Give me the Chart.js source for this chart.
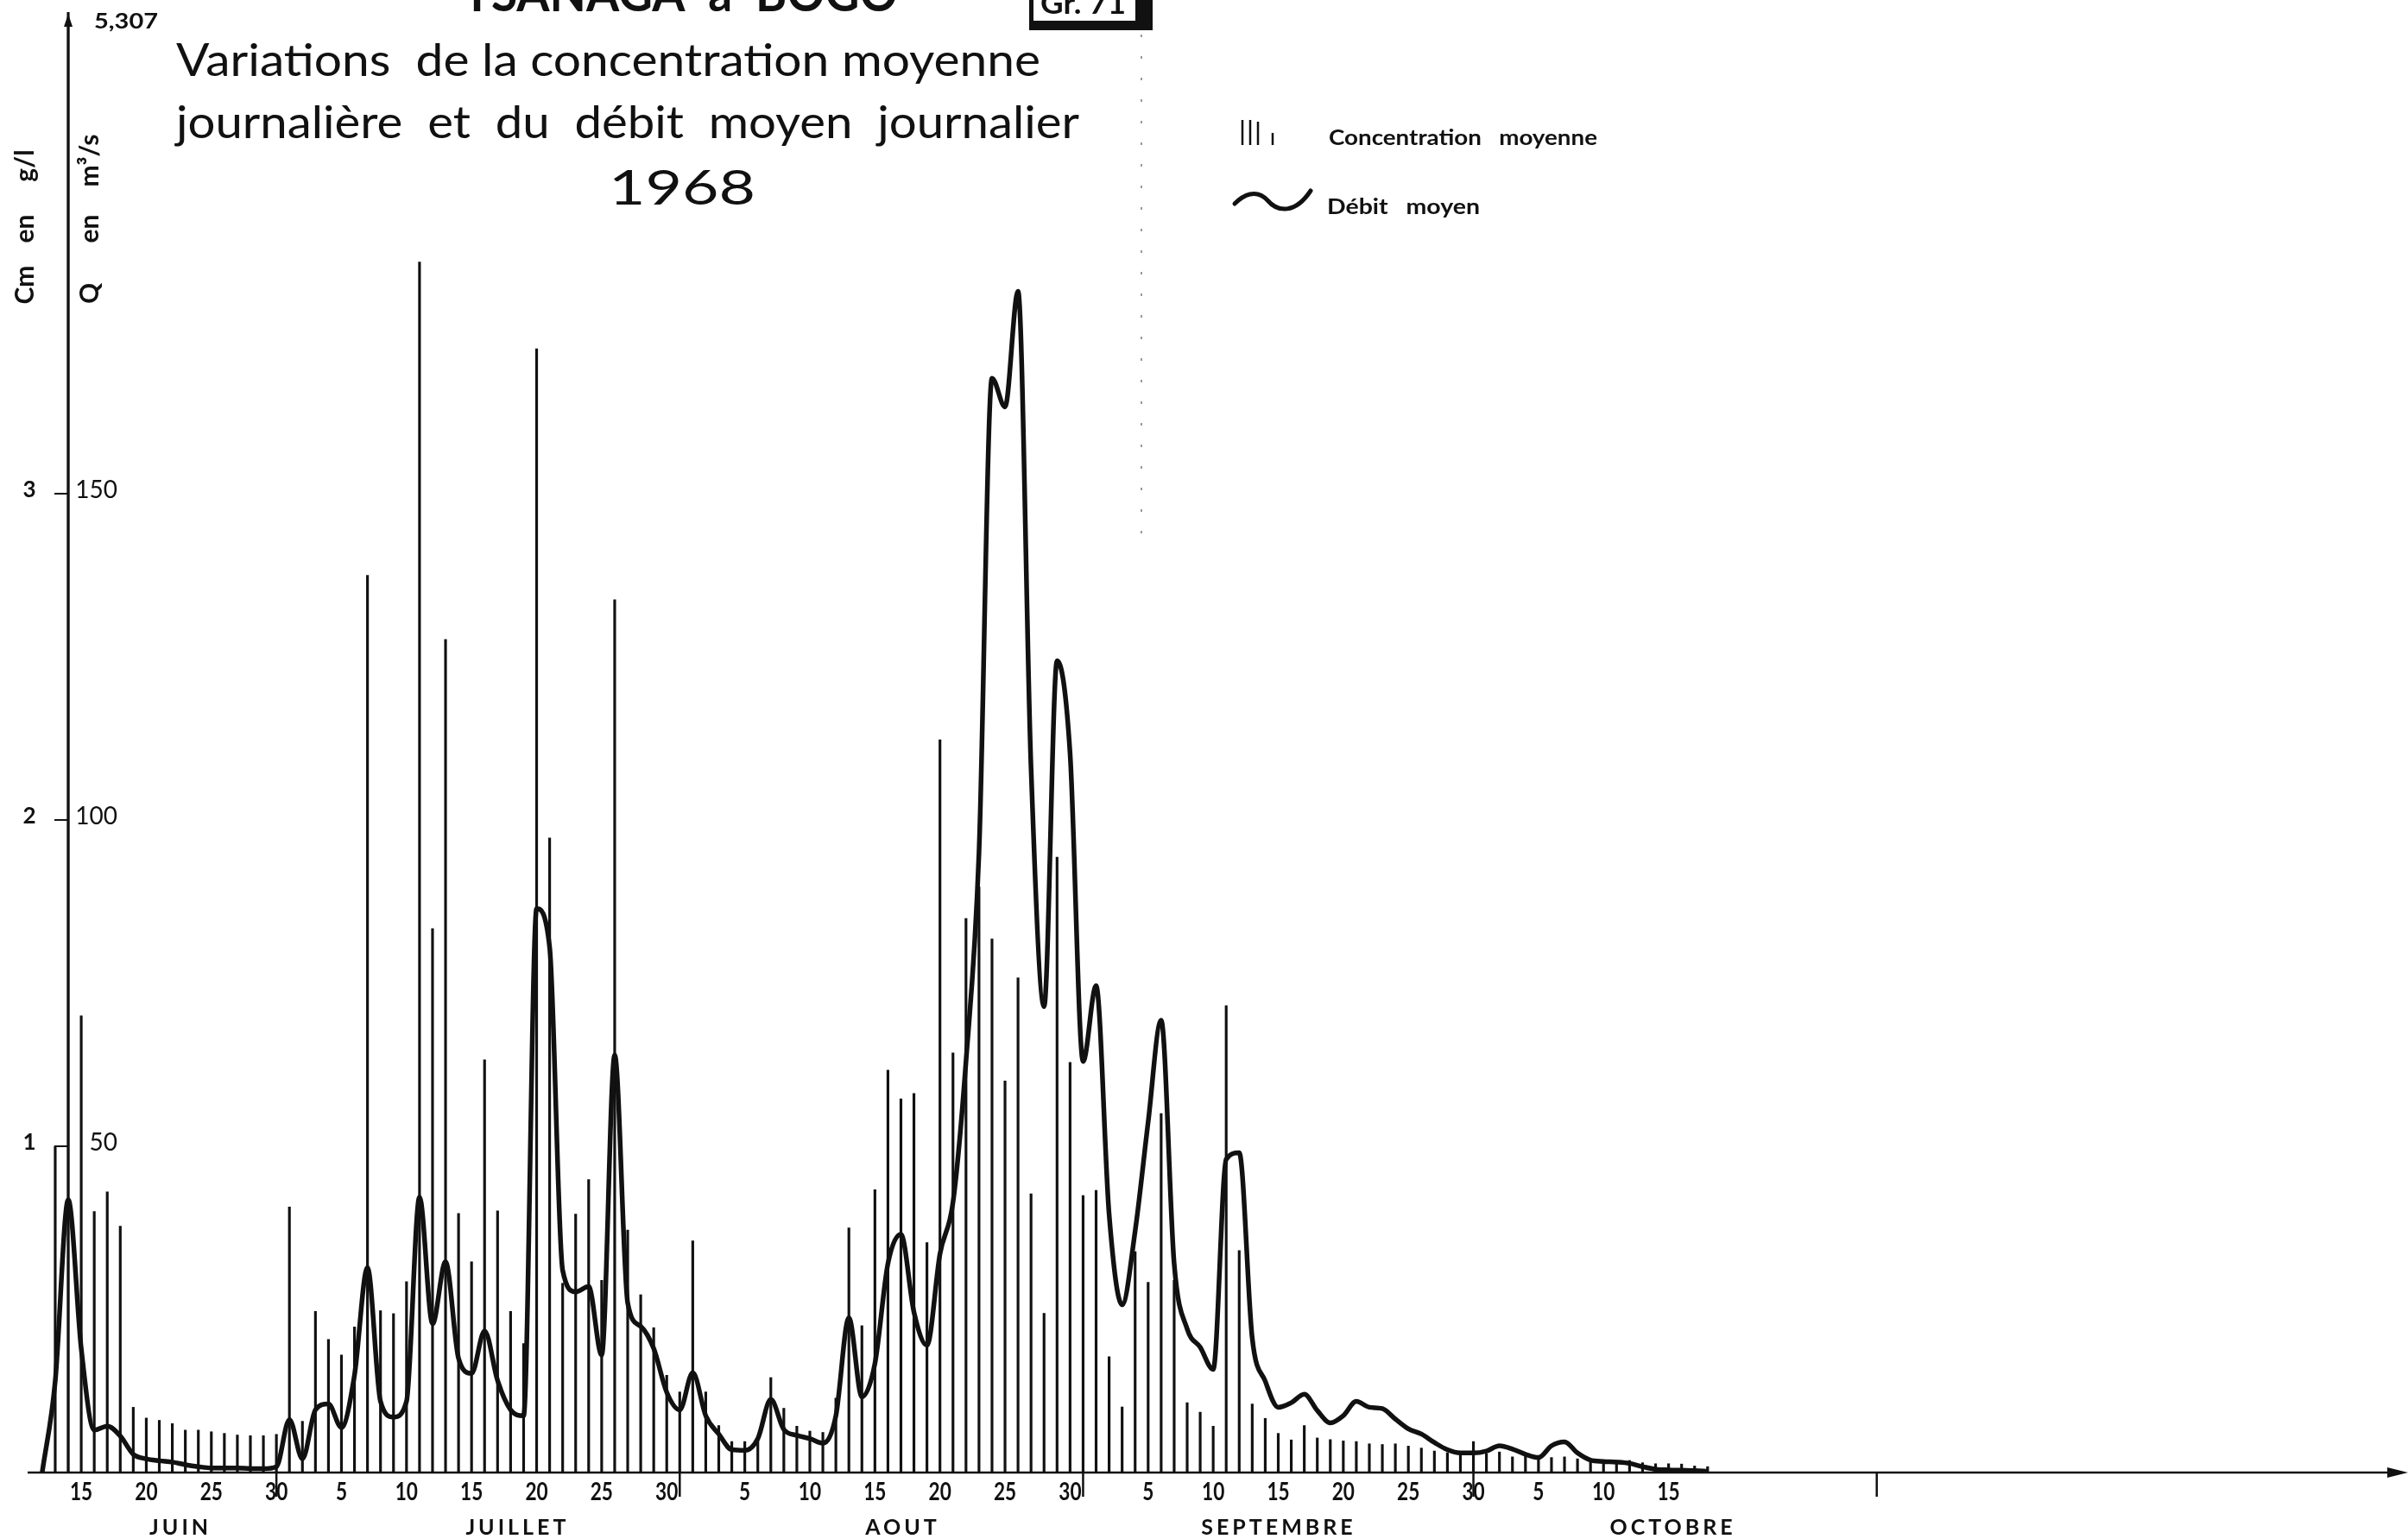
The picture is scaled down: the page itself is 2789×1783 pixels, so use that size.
<!DOCTYPE html>
<html lang="fr">
<head>
<meta charset="utf-8">
<title>Tsanaga à Bogo - 1968</title>
<script src="https://cdn.jsdelivr.net/npm/chart.js@4.4.1/dist/chart.umd.min.js"></script>
<style>
  html, body { margin: 0; padding: 0; background: #fff; }
  #graphique { display: block; }
</style>
</head>
<body>
<canvas id="graphique" width="2789" height="1783"></canvas>
<script>
// Concentration moyenne journalière (g/l)
const cmJuin = [null, 1.00, 5.307, 1.40, 0.80, 0.86, 0.755, 0.20, 0.167, 0.16, 0.15, 0.13, 0.13, 0.125, 0.12, 0.115, 0.113, 0.113, 0.117]; // 12 -> 30 juin
const cmJuillet = [0.814, 0.157, 0.494, 0.408, 0.36, 0.446, 2.75, 0.496, 0.487, 0.585, 3.71, 1.667, 2.553, 0.794, 0.646, 1.265, 0.802, 0.494, 0.395, 3.444, 1.945, 0.58, 0.792, 0.898, 0.589, 2.675, 0.743, 0.545, 0.444, 0.298, 0.247];
const cmAout = [0.71, 0.247, 0.144, 0.095, 0.095, 0.104, 0.291, 0.197, 0.142, 0.127, 0.123, 0.228, 0.75, 0.45, 0.867, 1.233, 1.145, 1.162, 0.705, 2.246, 1.286, 1.698, 1.795, 1.635, 1.20, 1.516, 0.854, 0.488, 1.886, 1.257, 0.849];
const cmSeptembre = [0.865, 0.355, 0.201, 0.677, 0.583, 1.10, 0.589, 0.214, 0.185, 0.142, 1.431, 0.68, 0.21, 0.166, 0.12, 0.10, 0.144, 0.106, 0.101, 0.097, 0.095, 0.088, 0.086, 0.088, 0.081, 0.075, 0.066, 0.061, 0.055, 0.095];
const cmOctobre = [0.058, 0.063, 0.048, 0.052, 0.05, 0.046, 0.048, 0.042, 0.035, 0.035, 0.037, 0.037, 0.03, 0.027, 0.027, 0.026, 0.02, 0.018]; // 1 -> 18 octobre

// Débit moyen journalier (m3/s)
const qJuin = [0, 14, 41.8, 19, 6.5, 7.1, 5.6, 2.8, 2.1, 1.8, 1.6, 1.2, 0.9, 0.7, 0.7, 0.7, 0.6, 0.6, 0.9];
const qJuillet = [8.1, 2.1, 9.6, 10.5, 6.9, 14.9, 31.4, 10.9, 8.5, 10.9, 42.2, 22.8, 32.3, 17.5, 15.2, 21.7, 14.1, 9.6, 8.7, 86.4, 80.5, 31, 27.7, 28.5, 18, 64, 26, 22.4, 19, 12.3, 9.6];
const qAout = [15.3, 8.7, 5.9, 3.5, 3.4, 5.2, 11.2, 6.6, 5.7, 5.2, 4.5, 8.7, 23.7, 11.6, 16.7, 32, 36.5, 24.6, 19.5, 33.5, 41.4, 63, 95, 167.7, 163.3, 181, 108, 71.4, 124.4, 110.2, 63];
const qSeptembre = [74.6, 39.6, 25.7, 37, 53.7, 69.3, 32, 22, 19.2, 15.8, 48, 49, 20.6, 14, 10, 10.7, 12, 9.5, 7.6, 8.7, 10.9, 10, 9.8, 8.2, 6.7, 5.9, 4.6, 3.5, 3.0, 3.0];
const qOctobre = [3.3, 4.1, 3.6, 2.8, 2.3, 4.1, 4.7, 3.0, 1.9, 1.7, 1.6, 1.4, 0.9, 0.5, 0.4, 0.35, 0.3, 0.2];

// Mois et graduations
const mois = ['JUIN', 'JUILLET', 'AOUT', 'SEPTEMBRE', 'OCTOBRE'];
const premierJour = [12, 1, 1, 1, 1];          // premier jour porté pour chaque mois
const joursEtiquettes = [
    [15, 20, 25, 30],
    [5, 10, 15, 20, 25, 30],
    [5, 10, 15, 20, 25, 30],
    [5, 10, 15, 20, 25, 30],
    [5, 10, 15]
];
const ticksCm = [1, 2, 3];
const ticksQ = [50, 100, 150];
const CM_MAXI = 5.307;

// Calendrier : rang du 1er de chaque mois (0 = 1er juin), fin de mois
const debutMois = [0, 30, 61, 92, 122, 153];
const finMois = [29, 60, 91, 121, 152];
const ancreMois = [22.5, 18.4, 17, 14.9, 15.2]; // jour sous lequel est centré le nom du mois
const JOUR_AXE = 13; // l'axe vertical passe au 14 juin

const NOIR = '#111';

// construit les points {x: rang du jour, y: valeur}
function serie(listes) {
    const points = [];
    listes.forEach((valeurs, m) => {
        valeurs.forEach((v, i) => {
            if (v === null) return;
            points.push({ x: debutMois[m] + premierJour[m] + i - 1, y: v });
        });
    });
    return points;
}

const pointsCm = serie([cmJuin, cmJuillet, cmAout, cmSeptembre, cmOctobre]);
const pointsQ = serie([qJuin, qJuillet, qAout, qSeptembre, qOctobre]);

// texte étiré / comprimé à une largeur donnée
function texteLargeur(ctx, txt, x, y, largeur) {
    const w = ctx.measureText(txt).width;
    ctx.save();
    ctx.translate(x, y);
    ctx.scale(largeur / w, 1);
    ctx.textAlign = 'left';
    ctx.fillText(txt, 0, 0);
    ctx.restore();
}

function fleche(ctx, px, py, sens) {
    ctx.beginPath();
    if (sens === 'droite') {
        ctx.moveTo(px, py);
        ctx.lineTo(px - 24, py - 6);
        ctx.lineTo(px - 24, py + 6);
    } else {
        ctx.moveTo(px, py);
        ctx.lineTo(px - 5, py + 15);
        ctx.lineTo(px + 5, py + 15);
    }
    ctx.closePath();
    ctx.fill();
}

function texteVertical(ctx, txt, px, py) {
    ctx.save();
    ctx.translate(px, py);
    ctx.rotate(-Math.PI / 2);
    ctx.textAlign = 'center';
    ctx.textBaseline = 'middle';
    ctx.fillText(txt, 0, 0);
    ctx.restore();
}

// Axes, graduations, titres et légende dessinés sur le canevas
const decor = {
    id: 'decor',
    beforeDraw(chart) {
        const ctx = chart.ctx;
        ctx.save();
        ctx.fillStyle = '#fff';
        ctx.fillRect(0, 0, chart.width, chart.height);
        ctx.restore();
    },
    afterDraw(chart) {
        const { ctx, chartArea } = chart;
        const sx = chart.scales.x, sy = chart.scales.y, sq = chart.scales.y2;
        const x0 = sx.getPixelForValue(JOUR_AXE);
        const yb = sy.getPixelForValue(0);

        ctx.save();
        ctx.strokeStyle = NOIR;
        ctx.fillStyle = NOIR;
        ctx.lineCap = 'butt';

        // axe des temps
        ctx.lineWidth = 2.5;
        ctx.beginPath();
        ctx.moveTo(chartArea.left, yb);
        ctx.lineTo(chartArea.right - 10, yb);
        ctx.stroke();
        fleche(ctx, chartArea.right, yb, 'droite');

        // axe vertical
        ctx.beginPath();
        ctx.moveTo(x0, yb);
        ctx.lineTo(x0, chartArea.top + 8);
        ctx.stroke();
        fleche(ctx, x0, chartArea.top + 2, 'haut');

        // fin de mois
        finMois.forEach(j => {
            const px = sx.getPixelForValue(j);
            ctx.beginPath();
            ctx.moveTo(px, yb);
            ctx.lineTo(px, yb + 28);
            ctx.stroke();
        });

        // graduations Cm et Q
        ctx.lineWidth = 2;
        ctx.font = 'bold 26px Lato';
        ctx.textAlign = 'center';
        ctx.textBaseline = 'middle';
        ticksCm.forEach(v => {
            const py = sy.getPixelForValue(v);
            ctx.beginPath();
            ctx.moveTo(x0 - 16, py);
            ctx.lineTo(x0, py);
            ctx.stroke();
            ctx.fillText(String(v), x0 - 45, py - 4);
        });
        ctx.font = '28px Lato';
        ctx.textAlign = 'right';
        ticksQ.forEach(v => {
            const py = sq.getPixelForValue(v);
            ctx.fillText(String(v), x0 + 57, py - 4);
        });

        // valeur hors échelle
        ctx.font = 'bold 24px Lato';
        ctx.textBaseline = 'alphabetic';
        texteLargeur(ctx, CM_MAXI.toString().replace('.', ','), x0 + 30, chartArea.top + 19, 74);

        // titres des axes
        ctx.font = 'bold 30px Lato';
        texteVertical(ctx, 'Cm', 29, 330);
        texteVertical(ctx, 'en', 29, 265);
        texteVertical(ctx, 'g/l', 29, 192);
        texteVertical(ctx, 'Q', 104, 340);
        texteVertical(ctx, 'en', 104, 265);
        texteVertical(ctx, 'm³/s', 104, 186);

        // jours
        ctx.font = 'bold 29px Lato';
        ctx.textBaseline = 'alphabetic';
        joursEtiquettes.forEach((jours, m) => {
            jours.forEach(j => {
                const px = sx.getPixelForValue(debutMois[m] + j - 1);
                ctx.save();
                ctx.translate(px, yb + 32);
                ctx.scale(0.78, 1);
                ctx.textAlign = 'center';
                ctx.fillText(String(j), 0, 0);
                ctx.restore();
            });
        });

        // mois
        ctx.font = 'bold 25px Lato';
        ctx.letterSpacing = '4px';
        ctx.textAlign = 'center';
        mois.forEach((nom, m) => {
            const px = sx.getPixelForValue(debutMois[m] + ancreMois[m] - 1);
            ctx.fillText(nom, px + 2, yb + 72);
        });
        ctx.letterSpacing = '0px';

        // titre
        ctx.textAlign = 'left';
        ctx.font = 'bold 60px Lato';
        texteLargeur(ctx, 'TSANAGA  à  BOGO', 536, 13, 504);
        ctx.font = '53px Lato';
        texteLargeur(ctx, 'Variations  de la concentration moyenne', 204, 88, 1001);
        texteLargeur(ctx, 'journalière  et  du  débit  moyen  journalier', 204, 160, 1046);
        ctx.font = '56px Lato';
        texteLargeur(ctx, '1968', 705, 237, 170);

        // cartouche Gr. 71
        ctx.fillRect(1192, 0, 143, 35);
        ctx.fillStyle = '#fff';
        ctx.fillRect(1197, 0, 118, 24);
        ctx.fillStyle = NOIR;
        ctx.font = 'bold 34px Lato';
        texteLargeur(ctx, 'Gr. 71', 1205, 16, 99);

        // trace de pliure
        ctx.save();
        ctx.strokeStyle = '#9a9a9a';
        ctx.lineWidth = 2;
        ctx.setLineDash([3, 22]);
        ctx.beginPath();
        ctx.moveTo(1322, 40);
        ctx.lineTo(1322, 640);
        ctx.stroke();
        ctx.restore();

        // légende
        ctx.lineWidth = 2.5;
        [[1439, 139], [1448, 139], [1457, 141], [1474, 154]].forEach(([lx, ly]) => {
            ctx.beginPath();
            ctx.moveTo(lx, ly);
            ctx.lineTo(lx, 168);
            ctx.stroke();
        });
        ctx.lineWidth = 5;
        ctx.lineCap = 'round';
        ctx.beginPath();
        ctx.moveTo(1430, 236);
        ctx.bezierCurveTo(1440, 226, 1455, 218, 1468, 232);
        ctx.bezierCurveTo(1480, 246, 1500, 248, 1518, 221);
        ctx.stroke();
        ctx.font = 'bold 24px Lato';
        texteLargeur(ctx, 'Concentration   moyenne', 1539, 168, 311);
        texteLargeur(ctx, 'Débit   moyen', 1537, 248, 177);

        ctx.restore();
    }
};

const chart = new Chart(document.getElementById('graphique').getContext('2d'), {
    data: {
        datasets: [
            {
                type: 'line',
                label: 'Débit moyen',
                data: pointsQ,
                yAxisID: 'y2',
                borderColor: NOIR,
                borderWidth: 5.5,
                pointRadius: 0,
                fill: false,
                cubicInterpolationMode: 'monotone',
                order: 0
            },
            {
                type: 'bar',
                label: 'Concentration moyenne',
                data: pointsCm,
                yAxisID: 'y',
                backgroundColor: NOIR,
                borderWidth: 0,
                barThickness: 2.5,
                grouped: false,
                clip: 0,
                order: 1
            }
        ]
    },
    options: {
        responsive: false,
        animation: false,
        devicePixelRatio: 1,
        layout: { padding: { left: 32, right: 0, top: 14, bottom: 77 } },
        plugins: {
            legend: { display: false },
            tooltip: { enabled: false },
            title: { display: false }
        },
        scales: {
            x: { type: 'linear', min: 9.88, max: 192.83, offset: false, display: false },
            y: { min: 0, max: 4.476, display: false },
            y2: { min: 0, max: 223.8, display: false }
        }
    },
    plugins: [decor]
});
</script>
</body>
</html>
